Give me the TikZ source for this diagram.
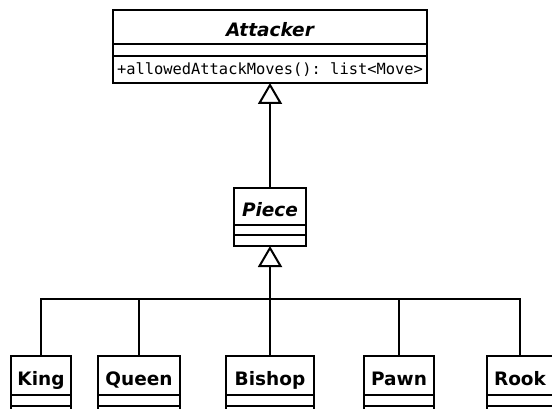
\documentclass[tikz,border=0pt]{standalone}
\usepackage{fontspec}
\setmainfont{DejaVu Sans}
\setmonofont{DejaVu Sans Mono}
\usetikzlibrary{arrows.meta,positioning}

\begin{document}
\begin{tikzpicture}[x=1pt,y=-1pt,line width=2pt]
  \tikzset{classname/.style={draw, outer sep=0pt, inner sep=0pt, minimum height=39pt, text height=19pt, text depth=0pt, font=\fontsize{18.5}{22}\selectfont\bfseries}, abstractname/.style={classname, font=\fontsize{18.5}{22}\selectfont\bfseries\itshape}, compartment/.style={draw, outer sep=0pt, inner sep=0pt, minimum height=11pt}, inherit/.style={-{Triangle[open, length=21pt, width=24pt]}}}
  \useasboundingbox (0,0) rectangle (552,409);
  \clip (0,0) rectangle (552,409);
  \node[abstractname, anchor=north, minimum width=314pt, minimum height=34pt] (attacker) at (270,10) {Attacker};
  \node[compartment, minimum width=314pt, minimum height=12pt, below=0pt of attacker] (attackerattrs) {};
  \node[compartment, minimum width=314pt, minimum height=27pt, below=0pt of attackerattrs, font=\fontsize{15.4}{17}\ttfamily] (attackerops) {+allowedAttackMoves(): list<Move>};
  \node[abstractname, anchor=north, minimum width=72pt, minimum height=37pt] (piece) at (270,188) {Piece};
  \node[compartment, minimum width=72pt, minimum height=10pt, below=0pt of piece] (pieceattrs) {};
  \node[compartment, minimum width=72pt, below=0pt of pieceattrs] (pieceops) {};
  \draw[inherit] (piece) -- (attackerops);
  \coordinate (bar) at (270,299);
  \draw[inherit] (bar) -- (pieceops);
  \foreach \name/\label/\x/\w in {king/King/41/60, queen/Queen/139/82, bishop/Bishop/270/88, pawn/Pawn/399/70, rook/Rook/520/66}{
    \node[classname, anchor=north, minimum width=\w pt] (\name) at (\x,356) {\label};
    \node[compartment, minimum width=\w pt, below=0pt of \name] (\name attrs) {};
    \node[compartment, minimum width=\w pt, below=0pt of \name attrs] (\name ops) {};
    \draw (\name.north) |- (bar);
  }
\end{tikzpicture}
\end{document}
